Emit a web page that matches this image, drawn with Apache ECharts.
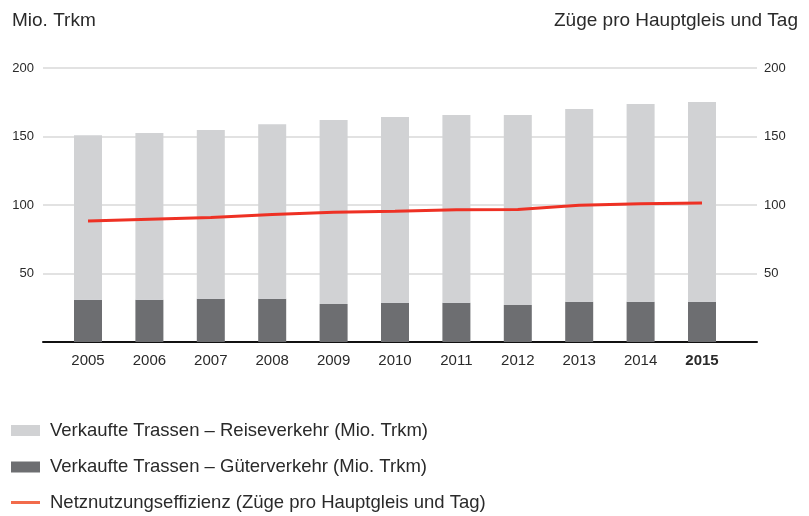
<!DOCTYPE html>
<html><head><meta charset="utf-8">
<script src="https://cdn.jsdelivr.net/npm/echarts@6/dist/echarts.min.js"></script>
<style>html,body{margin:0;padding:0;background:#fff}#c{width:809px;height:516px}</style>
</head><body><div id="c"></div>
<script>
const years = ['2005','2006','2007','2008','2009','2010','2011','2012','2013','2014','2015'];
const passenger = [120.1,121.6,123.1,127.4,134.3,135.5,137.0,138.7,140.6,144.3,145.8];
const freight = [30.9,30.9,31.6,31.6,27.7,28.7,28.7,27.0,29.4,29.4,29.4];
const efficiency = [88.3,89.6,90.8,93.0,94.7,95.4,96.6,96.8,99.8,101.0,101.5];
const yTicks = [0,50,100,150,200];

const nameP = 'Verkaufte Trassen – Reiseverkehr (Mio. Trkm)';
const nameF = 'Verkaufte Trassen – Güterverkehr (Mio. Trkm)';
const nameE = 'Netznutzungseffizienz (Züge pro Hauptgleis und Tag)';
const FONT = '"Liberation Sans", Arial, Helvetica, sans-serif';
const TXT = '#2a2a2a';
const legendText = {fontSize:18.5, color:TXT, fontFamily:FONT, padding:[0,0,0,5]};

const chart = echarts.init(document.getElementById('c'), null, {renderer:'canvas'});
chart.setOption({
  animation:false,
  textStyle:{fontFamily:FONT},
  title:[
    {text:'Mio. Trkm', left:12, top:11, padding:0, textStyle:{fontSize:19, fontWeight:'normal', color:TXT, fontFamily:FONT}},
    {text:'Züge pro Hauptgleis und Tag', right:11, top:11, padding:0, textStyle:{fontSize:19, fontWeight:'normal', color:TXT, fontFamily:FONT}}
  ],
  legend:[
    {orient:'vertical', left:11, top:421, padding:0, itemWidth:29, itemHeight:11, itemGap:17.5,
     textStyle:legendText,
     data:[{name:nameP, icon:'rect'},{name:nameF, icon:'rect'}]},
    {orient:'vertical', left:11, top:493, padding:0, itemWidth:29, itemHeight:3,
     textStyle:legendText,
     data:[{name:nameE, icon:'rect', itemStyle:{color:'#f26b4b'}}]}
  ],
  grid:[
    {left:57.3, width:675.4, top:68, height:274},
    {left:43, width:714, top:68, height:274}
  ],
  xAxis:[
    {type:'category', gridIndex:0, data:years, axisLine:{show:false}, axisTick:{show:false},
     axisLabel:{interval:0, fontSize:15, color:TXT, margin:11, fontFamily:FONT,
       formatter:v=> v==='2015' ? '{b|'+v+'}' : v,
       rich:{b:{fontWeight:'bold', fontSize:15, color:TXT, fontFamily:FONT}}}},
    {type:'value', gridIndex:1, min:0, max:1, axisLine:{show:true, lineStyle:{color:'#111', width:2}},
     axisTick:{show:false}, axisLabel:{show:false}, splitLine:{show:false}}
  ],
  yAxis:[
    {type:'value', gridIndex:1, min:yTicks[0], max:yTicks[yTicks.length-1], interval:50, position:'left',
     axisLine:{show:false}, axisTick:{show:false},
     axisLabel:{fontSize:13, color:TXT, margin:9, fontFamily:FONT, formatter:v=> v===0 ? '' : String(v)},
     splitLine:{show:true, lineStyle:{color:'#d8d8d8', width:1.5}}},
    {type:'value', gridIndex:1, min:yTicks[0], max:yTicks[yTicks.length-1], interval:50, position:'right',
     axisLine:{show:false}, axisTick:{show:false},
     axisLabel:{fontSize:13, color:TXT, margin:7, fontFamily:FONT, formatter:v=> v===0 ? '' : String(v)},
     splitLine:{show:false}},
    {type:'value', gridIndex:0, min:0, max:200, show:false, splitLine:{show:false}}
  ],
  series:[
    {name:nameF, type:'bar', stack:'t', xAxisIndex:0, yAxisIndex:2, data:freight, barWidth:28,
     itemStyle:{color:'#6d6e71'}},
    {name:nameP, type:'bar', stack:'t', xAxisIndex:0, yAxisIndex:2, data:passenger, barWidth:28,
     itemStyle:{color:'#d1d2d4'}},
    {name:nameE, type:'line', xAxisIndex:0, yAxisIndex:2, data:efficiency, symbol:'none',
     lineStyle:{color:'#ee3124', width:3}, itemStyle:{color:'#ee3124'}, z:5}
  ]
});
</script></body></html>
